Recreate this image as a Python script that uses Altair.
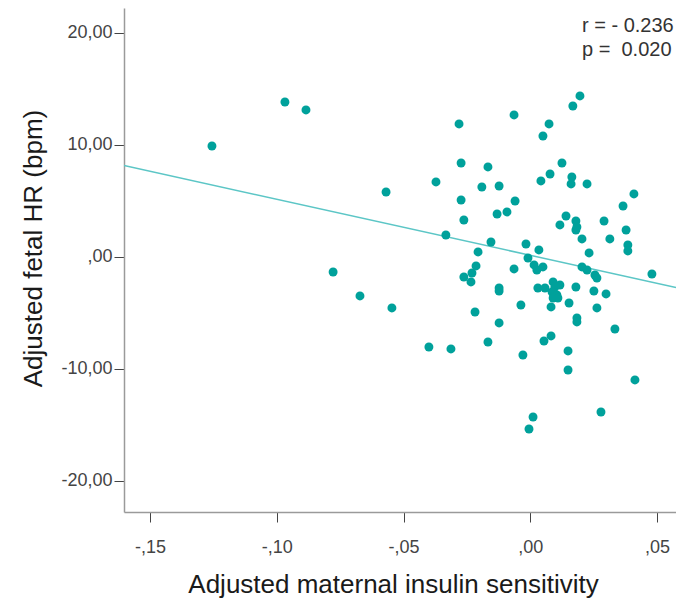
import altair as alt
import pandas as pd

# Adjusted maternal insulin sensitivity (x) and adjusted fetal HR in bpm (y)
x_vals = [
    -0.1256, -0.0968, -0.0885, -0.0569, -0.0778, -0.0672, -0.0546, -0.0281, -0.0064, 0.0074,
    0.0050, 0.0168, 0.0196, -0.0273, -0.0167, -0.0372, -0.0191, -0.0123, -0.0273, -0.0060,
    -0.0262, -0.0131, -0.0092, 0.0042, 0.0078, 0.0125, 0.0164, 0.0161, 0.0224, 0.0409,
    0.0366, 0.0141, 0.0117, 0.0180, 0.0184, 0.0180, 0.0291, 0.0378, 0.0204, 0.0314,
    0.0385, 0.0385, 0.0232, 0.0480, -0.0333, -0.0155, -0.0206, -0.0017, 0.0034, -0.0064,
    -0.0214, -0.0230, -0.0262, -0.0234, -0.0009, 0.0015, 0.0026, 0.0050, 0.0204, 0.0224,
    0.0255, 0.0263, 0.0030, 0.0058, 0.0090, 0.0097, 0.0117, 0.0086, 0.0105, 0.0090,
    0.0109, 0.0180, 0.0251, 0.0299, 0.0153, 0.0082, 0.0263, -0.0037, -0.0123, -0.0123,
    -0.0218, -0.0123, 0.0184, 0.0184, 0.0334, 0.0082, 0.0054, -0.0167, -0.0400, -0.0313,
    -0.0029, 0.0149, 0.0149, 0.0413, 0.0279, 0.0011, -0.0005,
]
y_vals = [
    9.91, 13.84, 13.13, 5.80, -1.34, -3.48, -4.55, 11.88, 12.68, 11.88,
    10.80, 13.48, 14.38, 8.39, 8.04, 6.70, 6.25, 6.34, 5.09, 5.00,
    3.30, 3.84, 4.02, 6.79, 7.41, 8.39, 7.14, 6.52, 6.52, 5.63,
    4.55, 3.66, 2.86, 3.21, 2.68, 2.41, 3.21, 2.41, 1.61, 1.61,
    1.07, 0.54, 0.36, -1.52, 1.96, 1.34, 0.45, 1.16, 0.63, -1.07,
    -0.80, -1.43, -1.79, -2.23, -0.09, -0.71, -1.16, -0.89, -0.89, -1.16,
    -1.61, -1.88, -2.77, -2.77, -2.23, -2.68, -2.50, -3.13, -3.39, -3.66,
    -3.66, -2.68, -3.04, -3.30, -4.11, -4.46, -4.55, -4.29, -2.77, -3.04,
    -4.91, -5.89, -5.45, -5.80, -6.43, -7.05, -7.50, -7.59, -8.04, -8.21,
    -8.75, -8.39, -10.09, -10.98, -13.84, -14.29, -15.36,
]

FIT_INTERCEPT = 0.15
FIT_SLOPE = -50.0
X_DOMAIN = [-0.1603, 0.0575]
Y_DOMAIN = [-22.77, 22.23]
X_TICKS = [-0.15, -0.10, -0.05, 0.0, 0.05]
Y_TICKS = [-20, -10, 0, 10, 20]
STAT_LINES = ["r = - 0.236", "p =\u00a0 0.020"]
X_TITLE = "Adjusted maternal insulin sensitivity"
Y_TITLE = "Adjusted fetal HR (bpm)"

POINT_COLOR = "#00a19b"
LINE_COLOR = "#5cc6c6"
FONT = "Liberation Sans"

pts = pd.DataFrame({"x": x_vals, "y": y_vals})
fit = pd.DataFrame({"x": X_DOMAIN, "y": [FIT_INTERCEPT + FIT_SLOPE * v for v in X_DOMAIN]})
stats = pd.DataFrame({"t": ["\n".join(STAT_LINES)]})

x_label = "(datum.value < 0 ? '-' : '') + ',' + substring(format(abs(datum.value), '.2f'), 2)"
y_label = ("datum.value == 0 ? ',00' : (datum.value < 0 ? '-' : '') + "
           "replace(format(abs(datum.value), '.2f'), '.', ',')")

x_enc = alt.X(
    "x:Q",
    scale=alt.Scale(domain=X_DOMAIN, nice=False, zero=False),
    axis=alt.Axis(
        title=X_TITLE, values=X_TICKS, labelExpr=x_label, grid=False,
        tickSize=10, labelPadding=16, labelFontSize=18, titleFontSize=26,
        titleFontWeight="normal", titlePadding=15, titleX=269,
        domainColor="#9a9a9a", domainWidth=1.5, tickColor="#444444",
        labelColor="#444444", titleColor="#1a1a1a", labelFont=FONT, titleFont=FONT,
    ),
)
y_enc = alt.Y(
    "y:Q",
    scale=alt.Scale(domain=Y_DOMAIN, nice=False, zero=False),
    axis=alt.Axis(
        title=Y_TITLE, values=Y_TICKS, labelExpr=y_label, grid=False,
        tickSize=10, labelPadding=2, labelFontSize=18, titleFontSize=26,
        titleFontWeight="normal", titlePadding=14, titleY=240,
        domainColor="#9a9a9a", domainWidth=1.5, tickColor="#444444",
        labelColor="#444444", titleColor="#1a1a1a", labelFont=FONT, titleFont=FONT,
    ),
)

points = alt.Chart(pts).mark_circle(size=80, color=POINT_COLOR, opacity=1).encode(x=x_enc, y=y_enc)
line = alt.Chart(fit).mark_line(color=LINE_COLOR, strokeWidth=1.5, clip=True).encode(x="x:Q", y="y:Q")
text = alt.Chart(stats).mark_text(
    align="left", baseline="top", lineBreak="\n", lineHeight=24,
    fontSize=20, font=FONT, color="#333333",
).encode(x=alt.value(458), y=alt.value(8), text="t:N")

chart = (
    alt.layer(line, points, text)
    .properties(
        width=552, height=504,
        autosize=alt.AutoSizeParams(type="none"),
        padding={"left": 124, "top": 8, "right": 0, "bottom": 91},
        background="white",
    )
    .configure_view(stroke=None)
)

chart.save("out.html", embed_options={"renderer": "svg", "actions": False})
